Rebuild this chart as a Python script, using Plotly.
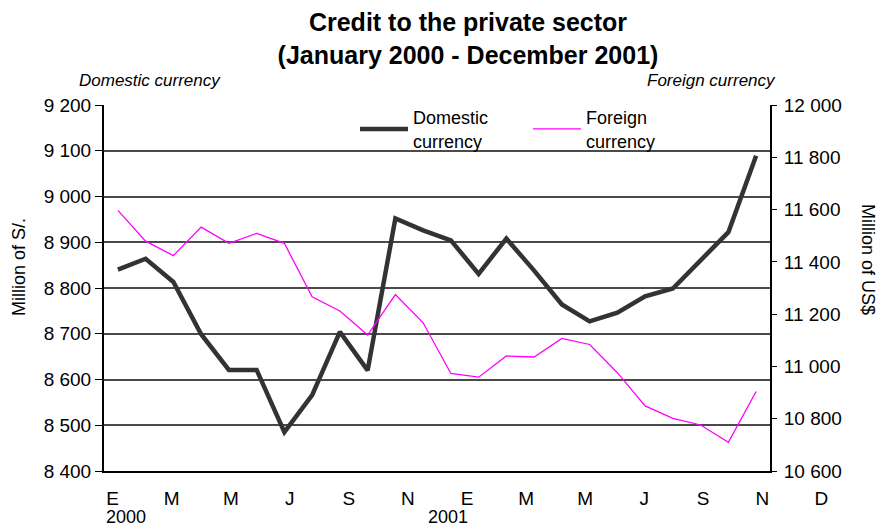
import plotly.graph_objects as go

# ---------------- data ----------------
months = [f"{y}-{m:02d}" for y in (2000, 2001) for m in range(1, 13)]
domestic = [8840, 8864, 8813, 8699, 8621, 8621, 8485, 8566, 8704, 8620, 8952, 8926,
            8904, 8831, 8908, 8838, 8764, 8727, 8746, 8782, 8799, 8862, 8922, 9089]
foreign = [11597, 11479, 11424, 11533, 11471, 11509, 11471, 11266, 11212, 11120, 11275, 11167,
           10973, 10959, 11040, 11036, 11107, 11084, 10976, 10849, 10801, 10776, 10710, 10904]
tick_labels = ["E", "M", "M", "J", "S", "N", "E", "M", "M", "J", "S", "N", "D"]
year_labels = ["2000", "2001"]

# ---------------- geometry helpers ----------------
W, H = 877, 527
ML, MR, MT, MB = 104, 20, 105, 56
PW = W - ML - MR
PH = H - MT - MB


def px(x):
    return (x - ML) / PW


def py(y):
    return (H - MB - y) / PH


FONT = "Liberation Sans, Arial, sans-serif"
GRID = "#4a4a4a"
TICKSIZE = 19

fig = go.Figure()
fig.add_trace(go.Scatter(
    x=months, y=domestic, name="Domestic<br>currency", mode="lines",
    line=dict(color="#333333", width=4.5), legend="legend",
))
fig.add_trace(go.Scatter(
    x=months, y=foreign, name="Foreign<br>currency", mode="lines",
    line=dict(color="#ff00ff", width=1.3), yaxis="y2", legend="legend2",
))
# invisible carrier trace for the month-label axis (own tiny subplot)
fig.add_trace(go.Scatter(
    x=list(range(len(tick_labels))), y=[None] * len(tick_labels), xaxis="x2", yaxis="y3",
    mode="markers", showlegend=False, hoverinfo="skip",
))

x2_left, x2_right = 104, 850
lab0, labstep = 112.7, 59.05

fig.update_layout(
    width=W, height=H,
    margin=dict(l=ML, r=MR, t=MT, b=MB),
    paper_bgcolor="white", plot_bgcolor="rgba(0,0,0,0)",
    font=dict(family=FONT, size=18, color="black"),
    separators=". ",
    title=dict(
        text="<b>Credit to the private sector<br>(January 2000 - December 2001)</b>",
        x=468 / W, xanchor="center", y=1 - 31 / H, yanchor="top", yref="container",
        font=dict(size=25, family=FONT),
    ),
    xaxis=dict(
        type="category", categoryorder="array", categoryarray=months,
        range=[-0.5, 23.5], domain=[0, (770 - ML) / PW],
        showticklabels=False, ticks="", showgrid=False,
        showline=True, linecolor="black", linewidth=2, zeroline=False,
    ),
    xaxis2=dict(
        domain=[0, (x2_right - ML) / PW], anchor="y3",
        range=[(x2_left - lab0) / labstep, (x2_right - lab0) / labstep],
        tickvals=list(range(len(tick_labels))), ticktext=tick_labels,
        showgrid=False, showline=False, zeroline=False, ticks="",
        tickfont=dict(size=TICKSIZE), ticklabelstandoff=14,
    ),
    yaxis3=dict(
        domain=[0, 0.001], anchor="x2", visible=False, range=[0, 1],
    ),
    yaxis=dict(
        range=[8400, 9200], dtick=100, tick0=8400, separatethousands=True,
        exponentformat="none",
        showgrid=True, gridcolor=GRID, gridwidth=1.5,
        showline=True, linecolor="black", linewidth=2,
        ticks="outside", ticklen=7, tickcolor="black", tickwidth=1,
        zeroline=False, tickfont=dict(size=TICKSIZE),
    ),
    yaxis2=dict(
        range=[10600, 12000], dtick=200, tick0=10600, separatethousands=True,
        exponentformat="none",
        overlaying="y", side="right", anchor="x",
        showgrid=False, showline=True, linecolor="black", linewidth=2,
        ticks="outside", ticklen=5, tickcolor="black", tickwidth=1,
        zeroline=False, tickfont=dict(size=TICKSIZE), ticklabelstandoff=3,
    ),
    legend=dict(
        x=px(355), y=py(99), xanchor="left", yanchor="top",
        bgcolor="rgba(0,0,0,0)", font=dict(size=18), itemwidth=48,
        tracegroupgap=0,
    ),
    legend2=dict(
        x=px(528), y=py(99), xanchor="left", yanchor="top",
        bgcolor="rgba(0,0,0,0)", font=dict(size=18), itemwidth=48,
        tracegroupgap=0,
    ),
    showlegend=True,
)

annotations = [
    dict(text="<i>Domestic currency</i>", x=px(150), y=py(80), xanchor="center", yanchor="middle",
         font=dict(size=17)),
    dict(text="<i>Foreign currency</i>", x=px(711), y=py(81), xanchor="center", yanchor="middle",
         font=dict(size=17)),
    dict(text="Million of S/.", x=px(19), y=py(267), textangle=-90, xanchor="center", yanchor="middle",
         font=dict(size=18)),
    dict(text="Million of US$", x=px(868), y=py(259), textangle=90, xanchor="center", yanchor="middle",
         font=dict(size=18)),
    dict(text=year_labels[0], x=px(125.5), y=py(517), xanchor="center", yanchor="middle",
         font=dict(size=18)),
    dict(text=year_labels[1], x=px(448), y=py(517), xanchor="center", yanchor="middle",
         font=dict(size=18)),
]
for a in annotations:
    a.update(xref="paper", yref="paper", showarrow=False)
fig.update_layout(annotations=annotations)

fig.write_html("out.html")
